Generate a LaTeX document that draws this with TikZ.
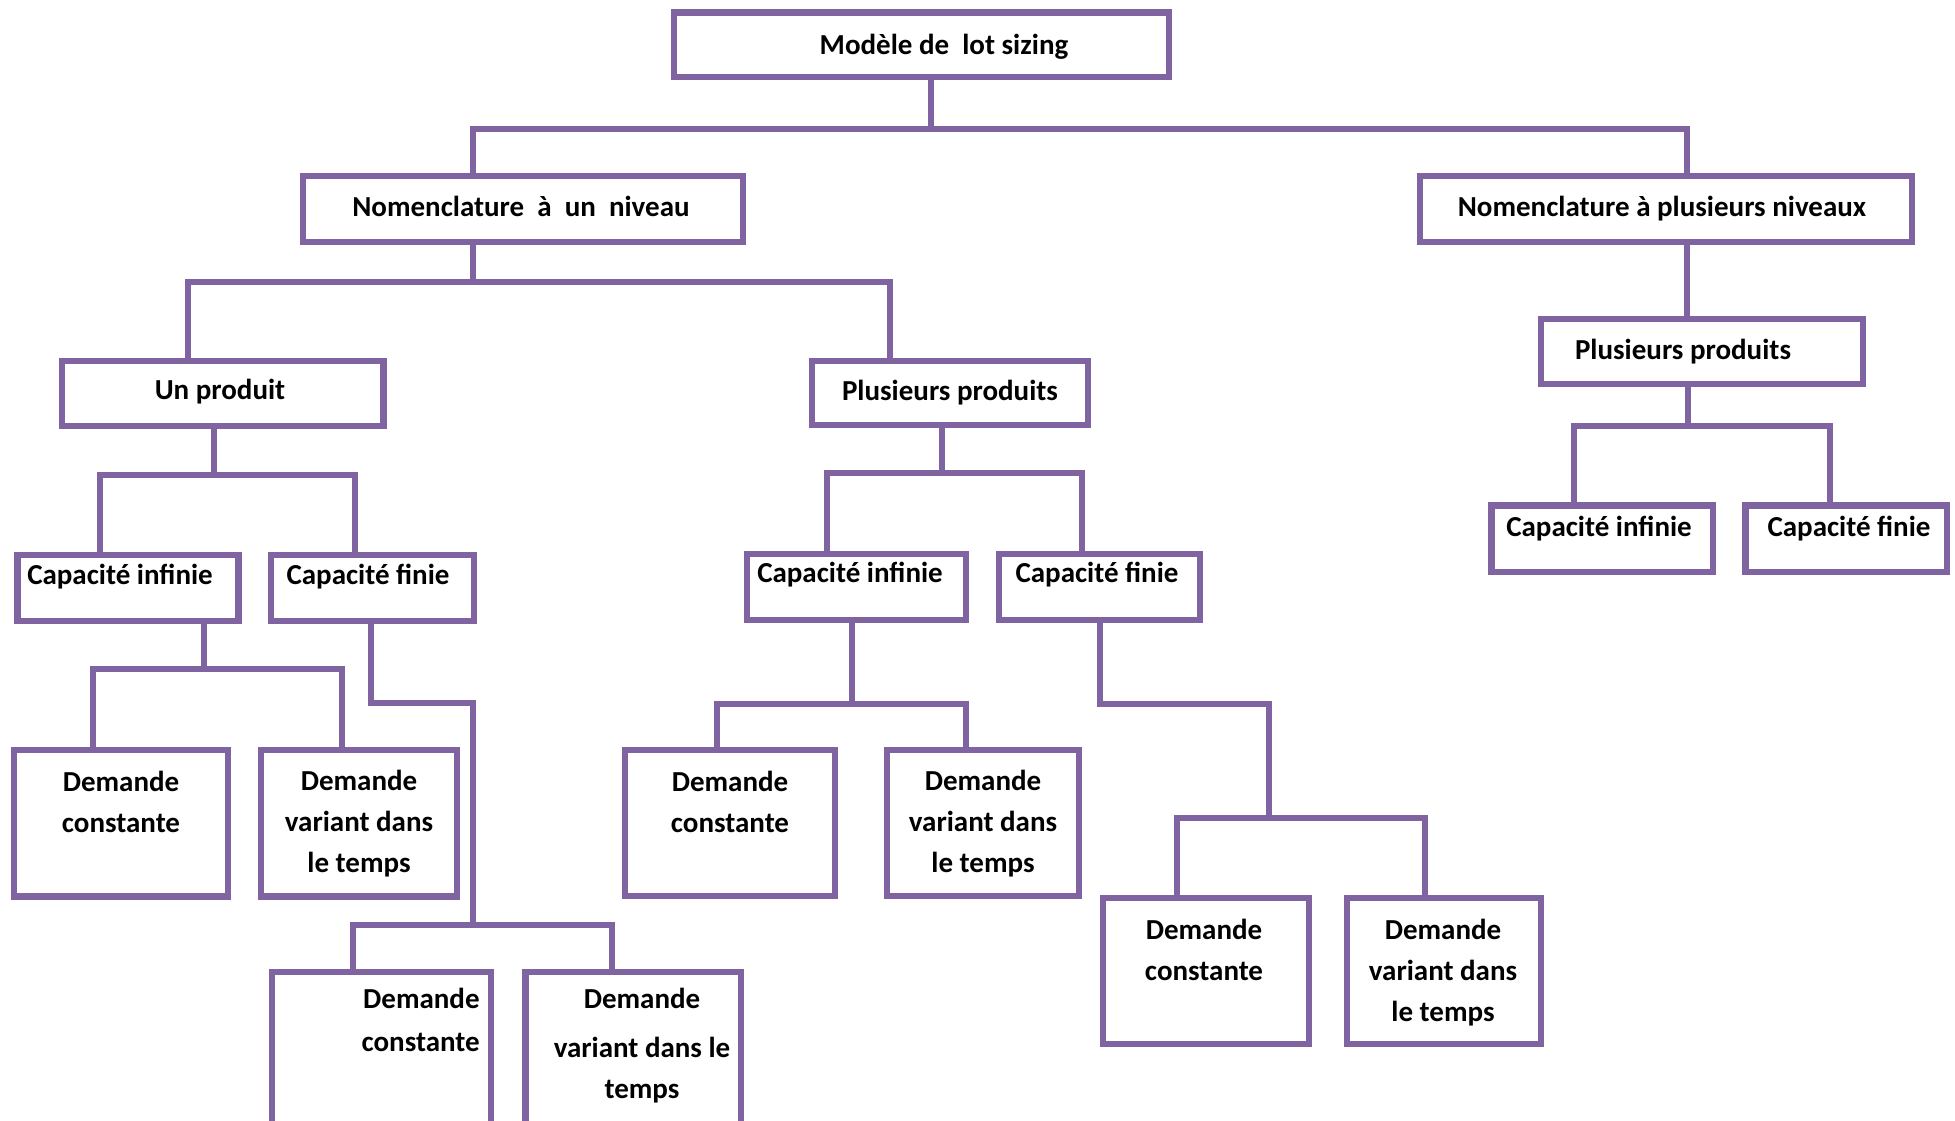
\documentclass[tikz,border=0pt]{standalone}
\usepackage{fontspec}
\setmainfont{Carlito}
\definecolor{lotviolet}{HTML}{8064A2}
\begin{document}
\begin{tikzpicture}[x=0.02cm, y=-0.02cm, font=\fontsize{16.5}{23.3}\selectfont\bfseries,
  box/.style={draw=lotviolet, line width=0.13cm, inner sep=0pt},
  link/.style={draw=lotviolet, line width=0.12cm},
  lbl/.style={anchor=base, align=center, inner sep=0pt}]
\clip (0,0) rectangle (1955,1121);
%boxes
\foreach \n/\x/\y/\w/\h in {root/921.5/44.75/495/64.5, n1/523/209/440/66, n2/1666/209/492/66,
  up/222.75/393.5/321.5/65, pp1/950/393/276/64, pp2/1702/351.5/322/65,
  ci1/128/588/221/66, cf1/372.5/588/203/66, ci2/856.5/587/219/66, cf2/1099.5/587/201/66,
  ci3/1602/539/221.5/66.5, cf3/1846/539/201.5/66.5,
  dc1/121/823/214/146.5, dv1/359/823/196/146.5, dc2/730/823/210/146, dv2/983/823/192/146,
  dc4/1206/971/206/146, dv4/1444/971/194/146, dc3/381.5/1061/219/178, dv3/633/1061/215.5/178}
  \node[box, minimum width=\w*0.02cm, minimum height=\h*0.02cm] (\n) at (\x,\y) {};
%texts (base = last line)
\foreach \n/\x/\y/\t in {root/944/55/{Modèle de\ \ lot sizing},
  n1/521/217/{Nomenclature\ \ à\ \ un\ \ niveau}, n2/1662/217/{Nomenclature à plusieurs niveaux},
  up/220/400/{Un produit}, pp1/950/401/{Plusieurs produits}, pp2/1683/360/{Plusieurs produits},
  ci1/120/585/{Capacité infinie}, cf1/368/585/{Capacité finie},
  ci2/850/583/{Capacité infinie}, cf2/1097/583/{Capacité finie},
  ci3/1599/537/{Capacité infinie}, cf3/1849/537/{Capacité finie},
  dc1/121/832/{Demande\\constante}, dv1/359/872/{Demande\\variant dans\\le temps},
  dc2/730/832/{Demande\\constante}, dv2/983/872/{Demande\\variant dans\\le temps},
  dc4/1204/980/{Demande\\constante}, dv4/1443/1021/{Demande\\variant dans\\le temps},
  dv3/642/1098/{Demande\\[0.16cm]variant dans le\\temps}}
  \node[lbl] (\n-t) at (\x,\y) {\t};
\node[lbl, anchor=base east, align=right] (dc3-t) at (480,1051) {Demande\\[0.04cm]constante};
%links
\coordinate (j0) at (931,129);
\coordinate (j1) at (473,282);
\coordinate (j2) at (214,475);
\coordinate (j3) at (942,473);
\coordinate (j4) at (1688,426);
\coordinate (j5) at (204,669);
\coordinate (j6) at (473,925);
\coordinate (j7) at (852,704);
\coordinate (j8) at (1269,818);
\draw[link] (root.south -| j0) -- (j0);
\draw[link] (n1.north -| j1) |- (j0) -| (n2.north -| 1687,0);
\draw[link] (n1.south -| j1) -- (j1);
\draw[link] (up.north -| 188,0) |- (j1) -| (pp1.north -| 890,0);
\draw[link] (n2.south -| 1687,0) -- (pp2.north -| 1687,0);
\draw[link] (up.south -| j2) -- (j2);
\draw[link] (ci1.north -| 100,0) |- (j2) -| (cf1.north -| 355,0);
\draw[link] (pp1.south -| j3) -- (j3);
\draw[link] (ci2.north -| 827,0) |- (j3) -| (cf2.north -| 1082,0);
\draw[link] (pp2.south -| j4) -- (j4);
\draw[link] (ci3.north -| 1574,0) |- (j4) -| (cf3.north -| 1830,0);
\draw[link] (ci1.south -| j5) -- (j5);
\draw[link] (dc1.north -| 93,0) |- (j5) -| (dv1.north -| 342,0);
\draw[link] (cf1.south -| 371,0) |- (j6 |- 0,703) -- (j6);
\draw[link] (dc3.north -| 353,0) |- (j6) -| (dv3.north -| 612,0);
\draw[link] (ci2.south -| j7) -- (j7);
\draw[link] (dc2.north -| 717,0) |- (j7) -| (dv2.north -| 966,0);
\draw[link] (cf2.south -| 1100,0) |- (j8 |- 0,704) -- (j8);
\draw[link] (dc4.north -| 1177,0) |- (j8) -| (dv4.north -| 1425,0);
\end{tikzpicture}
\end{document}
